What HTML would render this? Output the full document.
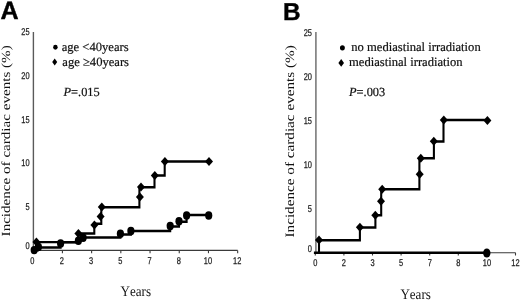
<!DOCTYPE html>
<html><head><meta charset="utf-8"><title>Incidence of cardiac events</title>
<style>
html,body{margin:0;padding:0;background:#fff;width:520px;height:300px;overflow:hidden;}
svg{display:block;font-family:"Liberation Sans", sans-serif;text-rendering:geometricPrecision;filter:blur(0.3px);}
</style></head><body>
<svg width="520" height="300" viewBox="0 0 520 300"><path d="M33.4 32 V250.4" stroke="#5a5a5a" stroke-width="1.4" fill="none"/><g stroke="#3a3a3a" stroke-width="1.1" fill="none"><path d="M33.2 250.4 H237.67"/><path d="M33.20 250.4 v2.8"/><path d="M62.41 250.4 v2.8"/><path d="M91.62 250.4 v2.8"/><path d="M120.83 250.4 v2.8"/><path d="M150.04 250.4 v2.8"/><path d="M179.25 250.4 v2.8"/><path d="M208.46 250.4 v2.8"/><path d="M237.67 250.4 v2.8"/></g><g font-family='"Liberation Sans", sans-serif' fill="#1a1a1a" stroke="#1a1a1a" stroke-width="0.25"><text transform="translate(29.60 35.00) scale(0.76 1)" text-anchor="end" font-size="9.8" font-weight="normal">25</text><text transform="translate(29.60 79.00) scale(0.76 1)" text-anchor="end" font-size="9.8" font-weight="normal">20</text><text transform="translate(29.60 122.50) scale(0.76 1)" text-anchor="end" font-size="9.8" font-weight="normal">15</text><text transform="translate(29.60 165.80) scale(0.76 1)" text-anchor="end" font-size="9.8" font-weight="normal">10</text><text transform="translate(29.60 209.50) scale(0.76 1)" text-anchor="end" font-size="9.8" font-weight="normal">5</text><text transform="translate(29.60 248.70) scale(0.76 1)" text-anchor="end" font-size="9.8" font-weight="normal">0</text><text transform="translate(32.20 263.60) scale(0.76 1)" text-anchor="middle" font-size="9.8" font-weight="normal">0</text><text transform="translate(61.91 263.60) scale(0.76 1)" text-anchor="middle" font-size="9.8" font-weight="normal">2</text><text transform="translate(91.12 263.60) scale(0.76 1)" text-anchor="middle" font-size="9.8" font-weight="normal">3</text><text transform="translate(120.33 263.60) scale(0.76 1)" text-anchor="middle" font-size="9.8" font-weight="normal">5</text><text transform="translate(149.54 263.60) scale(0.76 1)" text-anchor="middle" font-size="9.8" font-weight="normal">7</text><text transform="translate(178.75 263.60) scale(0.76 1)" text-anchor="middle" font-size="9.8" font-weight="normal">8</text><text transform="translate(207.96 263.60) scale(0.76 1)" text-anchor="middle" font-size="9.8" font-weight="normal">10</text><text transform="translate(237.17 263.60) scale(0.76 1)" text-anchor="middle" font-size="9.8" font-weight="normal">12</text></g><g transform="scale(0.85 1)" stroke="#000" stroke-width="2.45" fill="none"><path d="M39.41 250.30H42.82V242.10H92.12V233.40H110.94V223.80H119.18V207.20H164.00V187.30H181.76V175.40H193.76V161.50H245.88"/><path d="M40.00 250.30H44.47V247.50H71.29V242.30H92.24V240.50H95.29V237.40H141.65V234.50H154.00V231.00H200.24V226.50H210.59V221.80H219.53V215.00H245.53"/></g><g fill="#000"><path d="M36.40 237.40L40.40 241.90L36.40 246.40L32.40 241.90Z"/><path d="M78.40 228.90L82.40 233.40L78.40 237.90L74.40 233.40Z"/><path d="M94.40 220.40L98.40 224.90L94.40 229.40L90.40 224.90Z"/><path d="M100.60 211.90L104.60 216.40L100.60 220.90L96.60 216.40Z"/><path d="M101.80 202.50L105.80 207.00L101.80 211.50L97.80 207.00Z"/><path d="M139.90 192.60L143.90 197.10L139.90 201.60L135.90 197.10Z"/><path d="M141.00 182.50L145.00 187.00L141.00 191.50L137.00 187.00Z"/><path d="M154.80 170.90L158.80 175.40L154.80 179.90L150.80 175.40Z"/><path d="M164.90 156.90L168.90 161.40L164.90 165.90L160.90 161.40Z"/><path d="M209.00 157.00L213.00 161.50L209.00 166.00L205.00 161.50Z"/><ellipse cx="34.20" cy="250.10" rx="3.6" ry="4.2"/><ellipse cx="38.40" cy="246.90" rx="3.6" ry="4.2"/><ellipse cx="60.60" cy="243.40" rx="3.6" ry="4.2"/><ellipse cx="78.40" cy="240.80" rx="3.6" ry="4.2"/><ellipse cx="83.10" cy="237.80" rx="3.6" ry="4.2"/><ellipse cx="120.40" cy="233.80" rx="3.6" ry="4.2"/><ellipse cx="130.90" cy="231.00" rx="3.6" ry="4.2"/><ellipse cx="170.20" cy="226.00" rx="3.6" ry="4.2"/><ellipse cx="179.00" cy="221.20" rx="3.6" ry="4.2"/><ellipse cx="186.60" cy="215.50" rx="3.6" ry="4.2"/><ellipse cx="208.70" cy="215.50" rx="3.6" ry="4.2"/></g><path d="M315.9 32 V252.7" stroke="#7a7a7a" stroke-width="1.6" fill="none"/><g stroke="#3a3a3a" stroke-width="1.1" fill="none"><path d="M315.6 252.7 H515.50"/><path d="M315.30 252.7 v2.8"/><path d="M343.90 252.7 v2.8"/><path d="M372.50 252.7 v2.8"/><path d="M401.10 252.7 v2.8"/><path d="M429.70 252.7 v2.8"/><path d="M458.30 252.7 v2.8"/><path d="M486.90 252.7 v2.8"/><path d="M515.50 252.7 v2.8"/></g><g font-family='"Liberation Sans", sans-serif' fill="#1a1a1a" stroke="#1a1a1a" stroke-width="0.25"><text transform="translate(312.00 35.80) scale(0.76 1)" text-anchor="end" font-size="9.8" font-weight="normal">25</text><text transform="translate(312.00 79.90) scale(0.76 1)" text-anchor="end" font-size="9.8" font-weight="normal">20</text><text transform="translate(312.00 124.20) scale(0.76 1)" text-anchor="end" font-size="9.8" font-weight="normal">15</text><text transform="translate(312.00 168.00) scale(0.76 1)" text-anchor="end" font-size="9.8" font-weight="normal">10</text><text transform="translate(312.00 211.80) scale(0.76 1)" text-anchor="end" font-size="9.8" font-weight="normal">5</text><text transform="translate(312.00 251.60) scale(0.76 1)" text-anchor="end" font-size="9.8" font-weight="normal">0</text><text transform="translate(315.30 266.00) scale(0.76 1)" text-anchor="middle" font-size="9.8" font-weight="normal">0</text><text transform="translate(343.90 266.00) scale(0.76 1)" text-anchor="middle" font-size="9.8" font-weight="normal">2</text><text transform="translate(372.50 266.00) scale(0.76 1)" text-anchor="middle" font-size="9.8" font-weight="normal">3</text><text transform="translate(401.10 266.00) scale(0.76 1)" text-anchor="middle" font-size="9.8" font-weight="normal">5</text><text transform="translate(429.70 266.00) scale(0.76 1)" text-anchor="middle" font-size="9.8" font-weight="normal">7</text><text transform="translate(458.30 266.00) scale(0.76 1)" text-anchor="middle" font-size="9.8" font-weight="normal">8</text><text transform="translate(486.90 266.00) scale(0.76 1)" text-anchor="middle" font-size="9.8" font-weight="normal">10</text><text transform="translate(515.50 266.00) scale(0.76 1)" text-anchor="middle" font-size="9.8" font-weight="normal">12</text></g><g transform="scale(0.85 1)" stroke="#000" stroke-width="2.45" fill="none"><path d="M375.29 252.70H375.29V240.20H423.41V227.40H441.65V215.30H448.47V189.30H493.41V158.30H510.47V141.40H521.76V119.90H573.41"/><path d="M369.29 252.80H572.94"/></g><g fill="#000"><path d="M319.00 235.50L323.00 240.00L319.00 244.50L315.00 240.00Z"/><path d="M359.90 222.80L363.90 227.30L359.90 231.80L355.90 227.30Z"/><path d="M375.30 210.80L379.30 215.30L375.30 219.80L371.30 215.30Z"/><path d="M381.00 196.80L385.00 201.30L381.00 205.80L377.00 201.30Z"/><path d="M382.20 184.80L386.20 189.30L382.20 193.80L378.20 189.30Z"/><path d="M419.70 169.70L423.70 174.20L419.70 178.70L415.70 174.20Z"/><path d="M420.80 153.80L424.80 158.30L420.80 162.80L416.80 158.30Z"/><path d="M433.80 136.70L437.80 141.20L433.80 145.70L429.80 141.20Z"/><path d="M443.80 115.40L447.80 119.90L443.80 124.40L439.80 119.90Z"/><path d="M487.40 116.00L491.40 120.50L487.40 125.00L483.40 120.50Z"/><ellipse cx="486.80" cy="253.00" rx="3.7" ry="4.6"/></g><text x="0.4" y="19.4" font-family='"Liberation Sans", sans-serif' font-weight="bold" font-size="25.1" stroke="#000" stroke-width="0.4">A</text><text x="283.0" y="19.7" font-family='"Liberation Sans", sans-serif' font-weight="bold" font-size="24.3" stroke="#000" stroke-width="0.4">B</text><g fill="#000"><ellipse cx="55.40" cy="47.30" rx="2.25" ry="2.45"/><path d="M54.70 58.40L57.20 62.00L54.70 65.60L52.20 62.00Z"/></g><text x="61.7" y="50.5" font-family='"Liberation Serif", serif' font-size="12.6" fill="#111" stroke="#111" stroke-width="0.2">age &lt;40years</text><text x="62.3" y="65.9" font-family='"Liberation Serif", serif' font-size="12.6" fill="#111" stroke="#111" stroke-width="0.2">age &#8805;40years</text><text x="63.5" y="96.1" font-family='"Liberation Serif", serif' font-size="12.4" fill="#111" stroke="#111" stroke-width="0.2"><tspan font-style="italic">P</tspan>=.015</text><g fill="#000"><ellipse cx="342.40" cy="47.80" rx="2.45" ry="2.65"/><path d="M341.20 59.00L344.00 62.90L341.20 66.80L338.40 62.90Z"/></g><text x="351.3" y="51" font-family='"Liberation Serif", serif' font-size="12.6" fill="#111" stroke="#111" stroke-width="0.2">no mediastinal irradiation</text><text x="349" y="66" font-family='"Liberation Serif", serif' font-size="12.6" fill="#111" stroke="#111" stroke-width="0.2">mediastinal irradiation</text><text x="349.0" y="95.6" font-family='"Liberation Serif", serif' font-size="12.4" fill="#111" stroke="#111" stroke-width="0.2"><tspan font-style="italic">P</tspan>=.003</text><text transform="translate(10 236.4) rotate(-90) scale(1 0.82)" font-family='"Liberation Serif", serif' font-size="15.1" fill="#111">Incidence of cardiac events (%)</text><text transform="translate(293.7 237.5) rotate(-90) scale(1 0.84)" font-family='"Liberation Serif", serif' font-size="15.2" fill="#111">Incidence of cardiac events (%)</text><text transform="translate(120.6 295.8) scale(0.9 1)" font-family='"Liberation Serif", serif' font-size="14.5" fill="#111" style="font-kerning:none">Years</text><text transform="translate(400.4 298.6) scale(0.9 1)" font-family='"Liberation Serif", serif' font-size="14.5" fill="#111" style="font-kerning:none">Years</text></svg>
</body></html>
